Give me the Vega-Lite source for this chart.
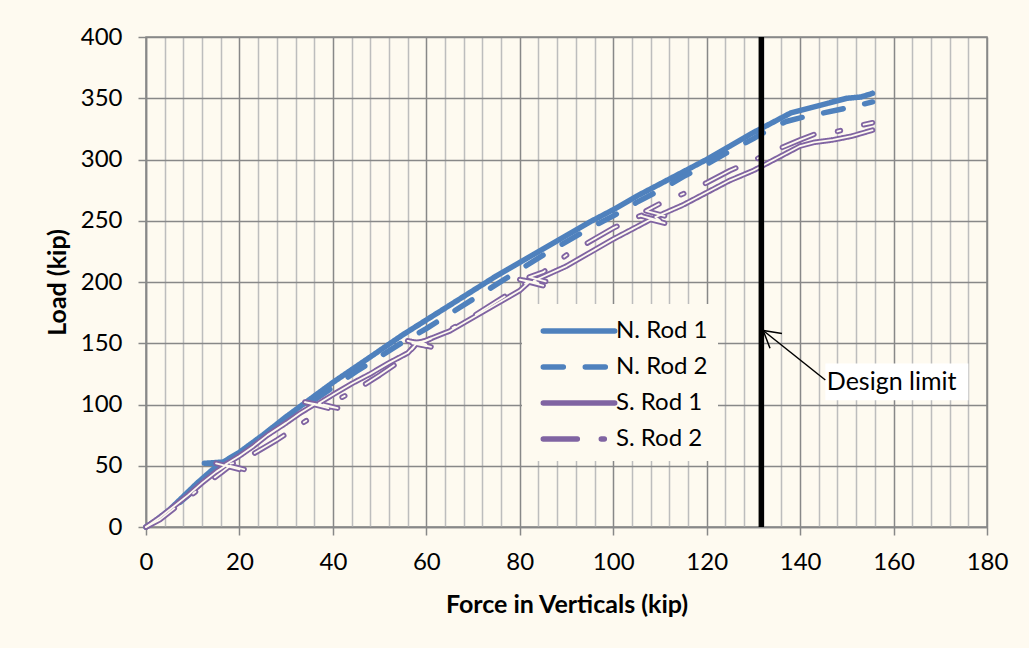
{
  "$schema": "https://vega.github.io/schema/vega-lite/v6.json",
  "autosize": {"type": "none"},
  "width": 841,
  "height": 490,
  "padding": {"left": 146, "top": 37, "right": 42, "bottom": 121},
  "background": "#FEFAF0",
  "config": {
    "font": "Lato",
    "view": {"stroke": "#888888", "strokeWidth": 1.5},
    "axis": {"labelFont": "Lato", "labelFontSize": 24, "labelColor": "#000000", "titleFont": "Lato", "titleFontSize": 25, "titleFontWeight": "bold", "titleColor": "#000000", "domainColor": "#888888", "domainWidth": 1.5, "tickColor": "#888888", "tickWidth": 1.5, "tickSize": 8, "gridWidth": 1.5}
  },
  "datasets": {
    "rods": [
      {"s":"N. Rod 1","x":0,"y":0},{"s":"N. Rod 1","x":2,"y":5},{"s":"N. Rod 1","x":5,"y":14},{"s":"N. Rod 1","x":8,"y":25},{"s":"N. Rod 1","x":11,"y":36},{"s":"N. Rod 1","x":14,"y":46},{"s":"N. Rod 1","x":16,"y":52},{"s":"N. Rod 1","x":12.5,"y":52},{"s":"N. Rod 1","x":16.5,"y":53},{"s":"N. Rod 1","x":20,"y":61},{"s":"N. Rod 1","x":25,"y":75},{"s":"N. Rod 1","x":30,"y":90},{"s":"N. Rod 1","x":35,"y":104},{"s":"N. Rod 1","x":40,"y":118},{"s":"N. Rod 1","x":45,"y":131},{"s":"N. Rod 1","x":50,"y":144},{"s":"N. Rod 1","x":55,"y":157},{"s":"N. Rod 1","x":60,"y":169},{"s":"N. Rod 1","x":65,"y":181},{"s":"N. Rod 1","x":70,"y":193},{"s":"N. Rod 1","x":75,"y":205},{"s":"N. Rod 1","x":80,"y":216},{"s":"N. Rod 1","x":85,"y":227},{"s":"N. Rod 1","x":90,"y":238},{"s":"N. Rod 1","x":95,"y":249},{"s":"N. Rod 1","x":100,"y":259},{"s":"N. Rod 1","x":105,"y":270},{"s":"N. Rod 1","x":110,"y":280},{"s":"N. Rod 1","x":115,"y":290},{"s":"N. Rod 1","x":120,"y":300},{"s":"N. Rod 1","x":125,"y":311},{"s":"N. Rod 1","x":130,"y":322},{"s":"N. Rod 1","x":134,"y":330},{"s":"N. Rod 1","x":138,"y":338},{"s":"N. Rod 1","x":142,"y":342},{"s":"N. Rod 1","x":146,"y":346},{"s":"N. Rod 1","x":150,"y":350},{"s":"N. Rod 1","x":153,"y":351},{"s":"N. Rod 1","x":155.5,"y":354},
      {"s":"N. Rod 2","x":0,"y":0},{"s":"N. Rod 2","x":3,"y":7},{"s":"N. Rod 2","x":6,"y":16},{"s":"N. Rod 2","x":10,"y":29},{"s":"N. Rod 2","x":14,"y":43},{"s":"N. Rod 2","x":17,"y":52},{"s":"N. Rod 2","x":20,"y":59},{"s":"N. Rod 2","x":25,"y":73},{"s":"N. Rod 2","x":30,"y":87},{"s":"N. Rod 2","x":35,"y":101},{"s":"N. Rod 2","x":40,"y":114},{"s":"N. Rod 2","x":45,"y":127},{"s":"N. Rod 2","x":50,"y":139},{"s":"N. Rod 2","x":55,"y":151},{"s":"N. Rod 2","x":60,"y":162},{"s":"N. Rod 2","x":65,"y":174},{"s":"N. Rod 2","x":70,"y":186},{"s":"N. Rod 2","x":75,"y":198},{"s":"N. Rod 2","x":80,"y":210},{"s":"N. Rod 2","x":85,"y":222},{"s":"N. Rod 2","x":90,"y":233},{"s":"N. Rod 2","x":95,"y":244},{"s":"N. Rod 2","x":100,"y":254},{"s":"N. Rod 2","x":105,"y":265},{"s":"N. Rod 2","x":110,"y":275},{"s":"N. Rod 2","x":115,"y":286},{"s":"N. Rod 2","x":120,"y":296},{"s":"N. Rod 2","x":125,"y":307},{"s":"N. Rod 2","x":130,"y":317},{"s":"N. Rod 2","x":134,"y":326},{"s":"N. Rod 2","x":137,"y":331},{"s":"N. Rod 2","x":140,"y":334},{"s":"N. Rod 2","x":145,"y":338},{"s":"N. Rod 2","x":150,"y":342},{"s":"N. Rod 2","x":155.5,"y":347},
      {"s":"S. Rod 1","x":0,"y":0},{"s":"S. Rod 1","x":3,"y":8},{"s":"S. Rod 1","x":6,"y":17},{"s":"S. Rod 1","x":9,"y":26},{"s":"S. Rod 1","x":12,"y":36},{"s":"S. Rod 1","x":15,"y":45},{"s":"S. Rod 1","x":17,"y":50},{"s":"S. Rod 1","x":20,"y":47},{"s":"S. Rod 1","x":15,"y":52},{"s":"S. Rod 1","x":19,"y":48},{"s":"S. Rod 1","x":17,"y":51},{"s":"S. Rod 1","x":20,"y":58},{"s":"S. Rod 1","x":23,"y":66},{"s":"S. Rod 1","x":26,"y":75},{"s":"S. Rod 1","x":30,"y":85},{"s":"S. Rod 1","x":33,"y":93},{"s":"S. Rod 1","x":36,"y":100},{"s":"S. Rod 1","x":39,"y":97},{"s":"S. Rod 1","x":34,"y":102},{"s":"S. Rod 1","x":38,"y":99},{"s":"S. Rod 1","x":37,"y":101},{"s":"S. Rod 1","x":40,"y":108},{"s":"S. Rod 1","x":44,"y":117},{"s":"S. Rod 1","x":48,"y":125},{"s":"S. Rod 1","x":52,"y":134},{"s":"S. Rod 1","x":56,"y":142},{"s":"S. Rod 1","x":58,"y":150},{"s":"S. Rod 1","x":61,"y":147},{"s":"S. Rod 1","x":56,"y":152},{"s":"S. Rod 1","x":60,"y":149},{"s":"S. Rod 1","x":59,"y":151},{"s":"S. Rod 1","x":65,"y":160},{"s":"S. Rod 1","x":70,"y":171},{"s":"S. Rod 1","x":75,"y":182},{"s":"S. Rod 1","x":80,"y":193},{"s":"S. Rod 1","x":82,"y":200},{"s":"S. Rod 1","x":85,"y":197},{"s":"S. Rod 1","x":80,"y":202},{"s":"S. Rod 1","x":84,"y":199},{"s":"S. Rod 1","x":83,"y":201},{"s":"S. Rod 1","x":90,"y":213},{"s":"S. Rod 1","x":95,"y":224},{"s":"S. Rod 1","x":100,"y":235},{"s":"S. Rod 1","x":105,"y":245},{"s":"S. Rod 1","x":108,"y":251},{"s":"S. Rod 1","x":111,"y":248},{"s":"S. Rod 1","x":106,"y":254},{"s":"S. Rod 1","x":110,"y":250},{"s":"S. Rod 1","x":109,"y":253},{"s":"S. Rod 1","x":115,"y":263},{"s":"S. Rod 1","x":120,"y":273},{"s":"S. Rod 1","x":125,"y":283},{"s":"S. Rod 1","x":130,"y":291},{"s":"S. Rod 1","x":135,"y":301},{"s":"S. Rod 1","x":140,"y":311},{"s":"S. Rod 1","x":143,"y":314},{"s":"S. Rod 1","x":147,"y":316},{"s":"S. Rod 1","x":151,"y":319},{"s":"S. Rod 1","x":155.5,"y":324},
      {"s":"S. Rod 2","x":0,"y":0},{"s":"S. Rod 2","x":3,"y":6},{"s":"S. Rod 2","x":6,"y":15},{"s":"S. Rod 2","x":9,"y":24},{"s":"S. Rod 2","x":12,"y":33},{"s":"S. Rod 2","x":16,"y":44},{"s":"S. Rod 2","x":18,"y":50},{"s":"S. Rod 2","x":21,"y":47},{"s":"S. Rod 2","x":17,"y":51},{"s":"S. Rod 2","x":20,"y":53},{"s":"S. Rod 2","x":24,"y":62},{"s":"S. Rod 2","x":28,"y":71},{"s":"S. Rod 2","x":32,"y":81},{"s":"S. Rod 2","x":36,"y":91},{"s":"S. Rod 2","x":38,"y":100},{"s":"S. Rod 2","x":41,"y":97},{"s":"S. Rod 2","x":37,"y":100},{"s":"S. Rod 2","x":40,"y":102},{"s":"S. Rod 2","x":45,"y":112},{"s":"S. Rod 2","x":50,"y":124},{"s":"S. Rod 2","x":55,"y":137},{"s":"S. Rod 2","x":58,"y":150},{"s":"S. Rod 2","x":61,"y":147},{"s":"S. Rod 2","x":57,"y":150},{"s":"S. Rod 2","x":60,"y":152},{"s":"S. Rod 2","x":65,"y":161},{"s":"S. Rod 2","x":70,"y":172},{"s":"S. Rod 2","x":75,"y":184},{"s":"S. Rod 2","x":80,"y":196},{"s":"S. Rod 2","x":83,"y":203},{"s":"S. Rod 2","x":86,"y":200},{"s":"S. Rod 2","x":82,"y":204},{"s":"S. Rod 2","x":85,"y":208},{"s":"S. Rod 2","x":90,"y":222},{"s":"S. Rod 2","x":95,"y":233},{"s":"S. Rod 2","x":100,"y":244},{"s":"S. Rod 2","x":105,"y":253},{"s":"S. Rod 2","x":108,"y":257},{"s":"S. Rod 2","x":111,"y":254},{"s":"S. Rod 2","x":107,"y":258},{"s":"S. Rod 2","x":110,"y":264},{"s":"S. Rod 2","x":115,"y":272},{"s":"S. Rod 2","x":120,"y":281},{"s":"S. Rod 2","x":125,"y":291},{"s":"S. Rod 2","x":131,"y":301},{"s":"S. Rod 2","x":135,"y":308},{"s":"S. Rod 2","x":140,"y":316},{"s":"S. Rod 2","x":144,"y":322},{"s":"S. Rod 2","x":148,"y":323},{"s":"S. Rod 2","x":152,"y":327},{"s":"S. Rod 2","x":155.5,"y":330}
    ]
  },
  "data": {"name": "rods"},
  "layer": [
    {
      "mark": {"type": "line", "strokeWidth": 5.5, "strokeCap": "round", "strokeJoin": "round"},
      "encoding": {
        "x": {"field": "x", "type": "quantitative", "scale": {"domain": [0, 180], "nice": false, "zero": true},
          "axis": {"title": "Force in Verticals (kip)", "tickCount": 200, "values": [0,4,8,12,16,20,24,28,32,36,40,44,48,52,56,60,64,68,72,76,80,84,88,92,96,100,104,108,112,116,120,124,128,132,136,140,144,148,152,156,160,164,168,172,176,180],
            "labelExpr": "datum.value % 20 === 0 ? datum.label : ''", "labelOverlap": false, "labelPadding": 15, "labelFlush": false, "titlePadding": 18,
            "gridColor": {"condition": {"test": "datum.value % 20 === 0", "value": "#888888"}, "value": "#BDBDBD"},
            "tickOpacity": {"condition": {"test": "datum.value % 20 === 0", "value": 1}, "value": 0}}},
        "y": {"field": "y", "type": "quantitative", "scale": {"domain": [0, 400], "nice": false},
          "axis": {"title": "Load (kip)", "tickCount": 50, "values": [0,50,100,150,200,250,300,350,400], "gridColor": "#888888", "labelPadding": 16, "titlePadding": 10}},
        "order": {"value": null},
        "color": {"field": "s", "type": "nominal", "scale": {"domain": ["N. Rod 1", "N. Rod 2", "S. Rod 1", "S. Rod 2"], "range": ["#4F81BD", "#4F81BD", "#8064A2", "#8064A2"]},
          "legend": {"orient": "none", "legendX": 376, "legendY": 267, "title": null, "symbolType": "M-2.55,0H2.55", "symbolSize": 784, "symbolStrokeWidth": 5.5, "symbolOffset": 30, "labelFont": "Lato", "labelFontSize": 24, "labelColor": "#000000", "fillColor": "#FEFAF0", "padding": 10, "rowPadding": 7, "labelOffset": 20,
            "encode": {"symbols": {"update": {"strokeCap": {"value": "round"}}}}}},
        "strokeDash": {"field": "s", "type": "nominal", "scale": {"domain": ["N. Rod 1", "N. Rod 2", "S. Rod 1", "S. Rod 2"], "range": [[1, 0], [20, 22], [1, 0], [34, 24, 3, 24]]}}
      }
    },
    {
      "transform": [{"filter": "datum.s === 'S. Rod 1'"}],
      "mark": {"type": "line", "strokeWidth": 1.8, "color": "#FEFAF0", "strokeCap": "round", "strokeJoin": "round"},
      "encoding": {"x": {"field": "x", "type": "quantitative"}, "y": {"field": "y", "type": "quantitative"}, "order": {"value": null}}
    },
    {
      "transform": [{"filter": "datum.s === 'S. Rod 2'"}],
      "mark": {"type": "line", "strokeWidth": 1.8, "color": "#FEFAF0", "strokeCap": "round", "strokeJoin": "round", "strokeDash": [34, 24, 3, 24]},
      "encoding": {"x": {"field": "x", "type": "quantitative"}, "y": {"field": "y", "type": "quantitative"}, "order": {"value": null}}
    },
    {
      "data": {"values": [{}]},
      "mark": {"type": "rule", "color": "#000000", "strokeWidth": 5.5},
      "encoding": {"x": {"datum": 131.7}, "y": {"datum": 0}, "y2": {"datum": 400}}
    },
    {
      "data": {"values": [{}]},
      "mark": {"type": "rect", "fill": "#FFFFFF"},
      "encoding": {"x": {"datum": 145.4}, "x2": {"datum": 176}, "y": {"datum": 103.5}, "y2": {"datum": 133.5}}
    },
    {
      "data": {"values": [{}]},
      "mark": {"type": "rule", "color": "#000000", "strokeWidth": 1.5},
      "encoding": {"x": {"datum": 145.4}, "y": {"datum": 120}, "x2": {"datum": 132.1}, "y2": {"datum": 160.4}}
    },
    {
      "data": {"values": [{}]},
      "mark": {"type": "point", "shape": "M-0.5,0.866L0,0L0.5,0.866", "size": 1444, "angle": 309, "filled": false, "stroke": "#000000", "strokeWidth": 1.5, "opacity": 1},
      "encoding": {"x": {"datum": 132.1}, "y": {"datum": 160.4}}
    },
    {
      "data": {"values": [{}]},
      "mark": {"type": "text", "text": "Design limit", "align": "left", "baseline": "middle", "font": "Lato", "fontSize": 25, "color": "#000000", "dx": 1},
      "encoding": {"x": {"datum": 145.5}, "y": {"datum": 118.5}}
    }
  ]
}
